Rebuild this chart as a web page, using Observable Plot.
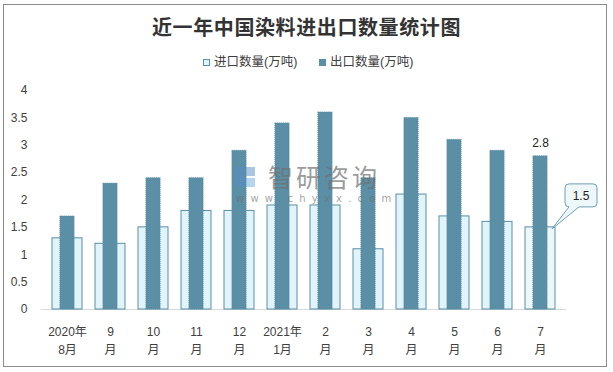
<!DOCTYPE html>
<html>
<head>
<meta charset="utf-8">
<script src="https://cdn.jsdelivr.net/npm/d3@7"></script>
<script src="https://cdn.jsdelivr.net/npm/@observablehq/plot@0.6"></script>
<style>
  html, body { margin: 0; padding: 0; background: #fff; }
  #wrap { position: relative; width: 613px; height: 372px; overflow: hidden; background: #fff;
          font-family: "Liberation Sans", "Noto Sans CJK SC", sans-serif; color: #404040; }
  #frame { position: absolute; left: 3px; top: 4px; width: 604px; height: 363px; border: 1px solid #8a8a8a; box-sizing: border-box; }
  #title { position: absolute; left: 0; width: 613px; top: 13px; text-align: center; font-family: "Noto Sans CJK SC", sans-serif;
           font-weight: 700; font-size: 20px; line-height: 28px; color: #333; letter-spacing: 0.6px; }
  #legend { position: absolute; top: 53px; left: 0; width: 613px; height: 18px; font-size: 12.5px; line-height: 18px; }
  .lg { position: absolute; top: 0; white-space: nowrap; font-family: "Liberation Sans", "Noto Sans CJK SC", sans-serif; }
  .sw { display: inline-block; width: 7px; height: 7px; box-sizing: border-box; margin-right: 4px; vertical-align: 0px; }
  #plot { position: absolute; left: 0; top: 80px; }
  #wm { position: absolute; left: 236px; top: 163px; width: 150px; height: 45px; pointer-events: none; }
  #wm .t { position: absolute; left: 32px; top: 0px; line-height: 26px; font-family: "Noto Sans CJK SC", sans-serif; font-size: 25px; letter-spacing: 3px; color: rgba(110,110,110,0.7); white-space: nowrap; }
  #wm .u { position: absolute; left: 0; top: 30px; line-height: 12px; font-family: "DejaVu Sans", sans-serif; font-size: 10px; letter-spacing: 6.2px; color: rgba(110,110,110,0.65); white-space: nowrap; }
  #wm .i1 { position: absolute; left: 0; top: 4px; width: 8px; height: 20px; background: rgba(90,140,200,0.5); }
  #wm .i2 { position: absolute; left: 10px; top: 4px; width: 9px; height: 9px; background: rgba(90,140,200,0.5); }
  #wm .i3 { position: absolute; left: 10px; top: 15px; width: 9px; height: 9px; background: rgba(90,160,220,0.45); }
</style>
</head>
<body>
<div id="wrap">
  <div id="frame"></div>
  <div id="title"></div>
  <div id="legend"></div>
  <div id="plot"></div>
  <div id="wm"><div class="i1"></div><div class="i2"></div><div class="i3"></div><div class="t">智研咨询</div><div class="u">www.chyxx.com</div></div>
</div>
<script>
// ---- data ----
const titleText = "近一年中国染料进出口数量统计图";
const seriesNames = ["进口数量(万吨)", "出口数量(万吨)"];
const months = ["2020年\n8月", "9\n月", "10\n月", "11\n月", "12\n月", "2021年\n1月", "2\n月", "3\n月", "4\n月", "5\n月", "6\n月", "7\n月"];
const importQty = [1.3, 1.2, 1.5, 1.8, 1.8, 1.9, 1.9, 1.1, 2.1, 1.7, 1.6, 1.5];
const exportQty = [1.7, 2.3, 2.4, 2.4, 2.9, 3.4, 3.6, 2.4, 3.5, 3.1, 2.9, 2.8];
const yTicks = [0, 0.5, 1, 1.5, 2, 2.5, 3, 3.5, 4];

// ---- styles ----
const importFill = "#e1f4fa";
const importFillSel = "#ecf7f6";
const importStroke = "#5b8ea6";
const exportFill = "#5b8fa6";

const rows = months.map((m, i) => ({
  month: m, imp: importQty[i], exp: exportQty[i],
  impFill: i === months.length - 1 ? importFillSel : importFill
}));
const last = rows[rows.length - 1];

document.getElementById("title").textContent = titleText;
const lg = document.getElementById("legend");
lg.innerHTML =
  `<div class="lg" style="left:203px"><span class="sw" style="background:${importFill};border:1px solid ${importStroke}"></span>${seriesNames[0]}</div>` +
  `<div class="lg" style="left:319px"><span class="sw" style="background:${exportFill}"></span>${seriesNames[1]}</div>`;

const chart = Plot.plot({
  width: 613,
  height: 290,
  marginTop: 10,
  marginBottom: 61,
  marginLeft: 41,
  marginRight: 47,
  style: { fontFamily: "'Liberation Sans', 'Noto Sans CJK SC', sans-serif", fontSize: "12px", color: "#404040", background: "transparent", overflow: "visible" },
  x: { domain: months, paddingInner: 0.3, paddingOuter: 0.15, label: null },
  y: { domain: [0, 4], label: null },
  marks: [
    Plot.ruleY([0], { stroke: "#d9d9d9", strokeWidth: 1.2 }),
    Plot.barY(rows, { x: "month", y: "imp", fill: "impFill", stroke: importStroke, strokeWidth: 1 }),
    Plot.barY(rows, { x: "month", y: "exp", fill: exportFill, insetLeft: 7.8, insetRight: 7.8, stroke: "#55879d", strokeWidth: 0.6, strokeDasharray: "1,1" }),
    Plot.text([last], { x: "month", y: "exp", text: d => String(d.exp), dy: -13, fill: "#222", fontSize: 12 }),
    Plot.axisY({ ticks: yTicks, tickSize: 0, tickPadding: 14, fontSize: 12, tickFormat: d => String(d), fill: "#404040" }),
    Plot.axisX({ tickSize: 0, tickPadding: 13, fontSize: 12, lineHeight: 1.55, fill: "#404040", label: null })
  ]
});
document.getElementById("plot").appendChild(chart);

// callout for the last import value, positioned with the plot's own scales
(function () {
  const xs = chart.scale("x"), ys = chart.scale("y");
  const cx = xs.apply(last.month) + (xs.bandwidth || 0) / 2;
  const cy = ys.apply(last.imp);
  const tipX = cx + 12, tipY = cy + 2;
  const bx0 = cx + 25, bx1 = cx + 57, by0 = cy - 43, by1 = cy - 20, r = 4;
  const p1 = cx + 29, p2 = cx + 39;
  const d = `M${bx0 + r},${by0} H${bx1 - r} Q${bx1},${by0} ${bx1},${by0 + r} V${by1 - r} Q${bx1},${by1} ${bx1 - r},${by1}` +
            ` H${p2} L${tipX},${tipY} L${p1},${by1} H${bx0 + r} Q${bx0},${by1} ${bx0},${by1 - r} V${by0 + r} Q${bx0},${by0} ${bx0 + r},${by0} Z`;
  const g = d3.select(chart).append("g");
  g.append("path").attr("d", d).attr("fill", "#eef8f8").attr("stroke", "#6f9fb3").attr("stroke-width", 1);
  g.append("text").attr("x", (bx0 + bx1) / 2).attr("y", (by0 + by1) / 2).attr("dy", "0.35em")
    .attr("text-anchor", "middle").attr("fill", "#222").attr("font-size", 12).text(String(last.imp));
})();
</script>
</body>
</html>
